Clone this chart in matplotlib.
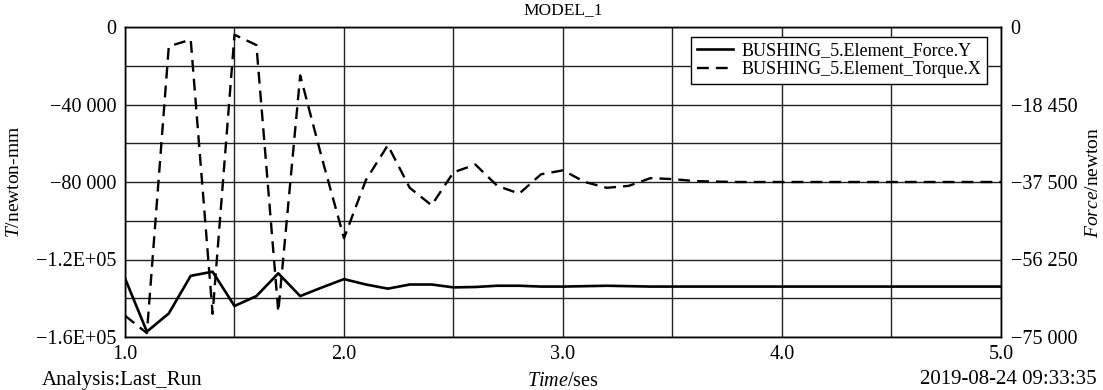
import numpy as np
import matplotlib
matplotlib.use("Agg")
from matplotlib import pyplot as plt
from matplotlib.ticker import FixedLocator, FixedFormatter, MultipleLocator

plt.rcParams['font.family'] = ['Liberation Serif', 'DejaVu Serif']
plt.rcParams['mathtext.fontset'] = 'custom'
plt.rcParams['mathtext.rm'] = 'Liberation Serif'
plt.rcParams['mathtext.it'] = 'Liberation Serif:italic'

# time samples (ses)
time = [1.0, 1.1, 1.2, 1.3, 1.4, 1.5, 1.6, 1.7, 1.8, 1.9,
        2.0, 2.1, 2.2, 2.3, 2.4, 2.5, 2.6, 2.7, 2.8, 2.9,
        3.0, 3.1, 3.2, 3.3, 3.4, 3.5, 3.6, 3.7, 3.8, 3.9,
        4.0, 4.1, 4.2, 4.3, 4.4, 4.5, 4.6, 4.7, 4.8, 4.9, 5.0]

# BUSHING_5.Element_Torque.X  (newton-mm, left axis)
torque_x = [-149000, -158000, -10000, -6500, -148000, -4000, -9300, -147000, -25000, -68000,
            -109000, -79000, -61000, -83000, -92000, -75000, -71000, -82000, -86000, -76000,
            -74000, -80000, -83000, -82000, -78000, -78500, -79500, -79800, -80000, -80000,
            -80000, -80000, -80000, -80000, -80000, -80000, -80000, -80000, -80000, -80000, -80000]

# BUSHING_5.Element_Force.Y  (newton, right axis)
force_y = [-60800, -73700, -69300, -60200, -59200, -67500, -65100, -59600, -65100, -63000,
           -61000, -62300, -63300, -62300, -62300, -63000, -62900, -62600, -62600, -62800,
           -62800, -62700, -62600, -62700, -62800, -62800, -62800, -62800, -62800, -62800,
           -62800, -62800, -62800, -62800, -62800, -62800, -62800, -62800, -62800, -62800, -62800]

left_ticks = [0, -40000, -80000, -120000, -160000]
left_labels = ["0", "\u221240 000", "\u221280 000", "\u22121.2E+05", "\u22121.6E+05"]
right_ticks = [0, -18750, -37500, -56250, -75000]
right_labels = ["0", "\u221218 450", "\u221237 500", "\u221256 250", "\u221275 000"]
x_ticks = [1.0, 2.0, 3.0, 4.0, 5.0]

fig = plt.figure(figsize=(11.03, 3.9), dpi=100)
ax = fig.add_axes([125 / 1103, 1 - 337 / 390, 876 / 1103, 310 / 390])
ax2 = ax.twinx()

l1, = ax2.plot(time, force_y, color='black', lw=1.9, label='BUSHING_5.Element_Force.Y')
l2, = ax.plot(time, torque_x, color='black', lw=1.7, linestyle=(0, (5, 3)),
              label='BUSHING_5.Element_Torque.X')

ax.set_xlim(1.0, 5.0)
ax.set_ylim(-160000, 0)
ax2.set_ylim(-75000, 0)

ax.xaxis.set_major_locator(FixedLocator(x_ticks))
ax.xaxis.set_major_formatter(FixedFormatter([f"{v:.1f}" for v in x_ticks]))
ax.xaxis.set_minor_locator(MultipleLocator(0.5))
ax.yaxis.set_major_locator(FixedLocator(left_ticks))
ax.yaxis.set_major_formatter(FixedFormatter(left_labels))
ax.yaxis.set_minor_locator(MultipleLocator(20000))
ax2.yaxis.set_major_locator(FixedLocator(right_ticks))
ax2.yaxis.set_major_formatter(FixedFormatter(right_labels))

ax.grid(which='both', color='#222222', lw=1.0)
ax.tick_params(which='both', length=0, labelsize=14.5)
ax.tick_params(axis='y', pad=6)
ax.tick_params(axis='x', pad=6)
ax2.tick_params(length=0, labelsize=14.5, pad=7)
for a in (ax, ax2):
    for s in a.spines.values():
        s.set_linewidth(1.0)

ax.set_ylabel('$T$/newton-mm', fontsize=14)
ax.yaxis.set_label_coords(-0.1164, 0.5)
ax2.set_ylabel('$Force$/newton', fontsize=14)
ax2.yaxis.set_label_coords(1.0955, 0.5)

leg = ax2.legend(handles=[l1, l2], loc='upper right', bbox_to_anchor=(0.984, 0.968),
                 fontsize=13, frameon=True, fancybox=False, edgecolor='black',
                 framealpha=1, handlelength=2.0, borderpad=0.3, labelspacing=0.1,
                 handletextpad=0.5, borderaxespad=0)
leg.get_frame().set_linewidth(1.0)

fig.text(563 / 1103, 1 - 10 / 390, 'MODEL_1', ha='center', va='center', fontsize=12.5)
fig.text(42 / 1103, 1 - 380 / 390, 'Analysis:Last_Run', ha='left', va='center', fontsize=15)
fig.text(563 / 1103, 1 - 381 / 390, '$Time$/ses', ha='center', va='center', fontsize=14.5)
fig.text(1097 / 1103, 1 - 379 / 390, '2019-08-24 09:33:35', ha='right', va='center', fontsize=15)

plt.savefig('out.png', dpi=100)
